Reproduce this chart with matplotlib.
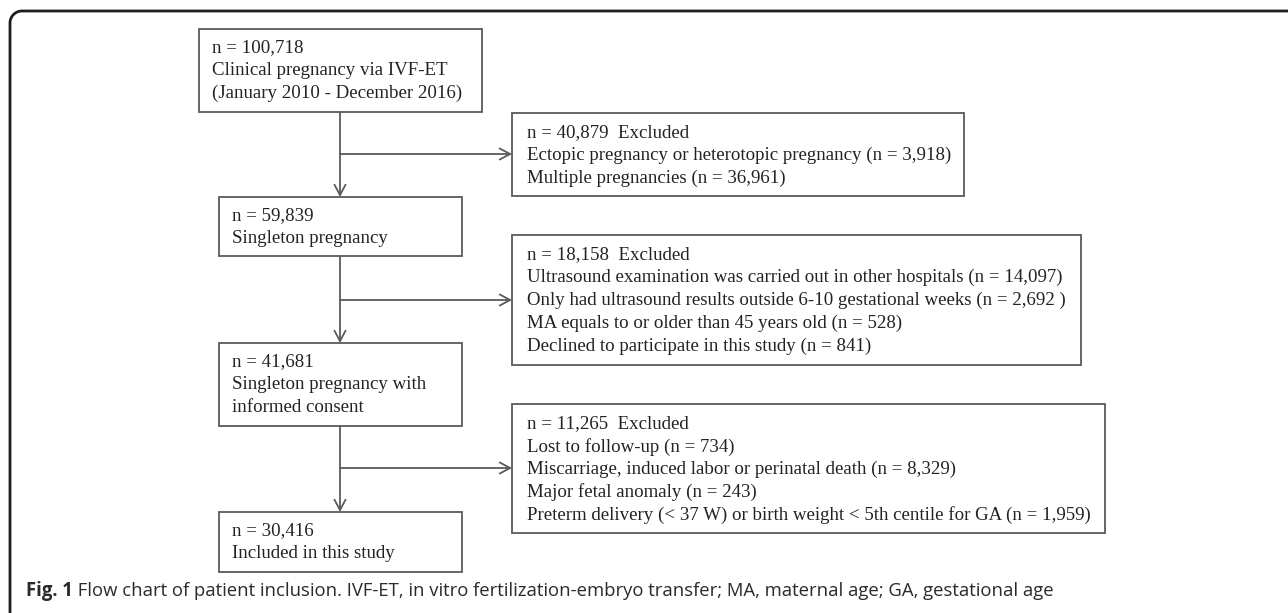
#Flow chart of patient inclusion
import numpy as np
import matplotlib.pyplot as plt
from matplotlib.patches import Rectangle

# Main path: counts and labels
main_counts = ["100,718", "59,839", "41,681", "30,416"]
main_labels = [
    ["Clinical pregnancy via IVF-ET", "(January 2010 - December 2016)"],
    ["Singleton pregnancy"],
    ["Singleton pregnancy with", "informed consent"],
    ["Included in this study"],
]

# Exclusion boxes
excluded_counts = ["40,879", "18,158", "11,265"]
excluded_reasons = [
    ["Ectopic pregnancy or heterotopic pregnancy (n = 3,918)",
     "Multiple pregnancies (n = 36,961)"],
    ["Ultrasound examination was carried out in other hospitals (n = 14,097)",
     "Only had ultrasound results outside 6-10 gestational weeks (n = 2,692 )",
     "MA equals to or older than 45 years old (n = 528)",
     "Declined to participate in this study (n = 841)"],
    ["Lost to follow-up (n = 734)",
     "Miscarriage, induced labor or perinatal death (n = 8,329)",
     "Major fetal anomaly (n = 243)",
     "Preterm delivery (< 37 W) or birth weight < 5th centile for GA (n = 1,959)"],
]

caption_bold = "Fig. 1"
caption_text = (" Flow chart of patient inclusion. IVF-ET, in vitro fertilization-embryo "
                "transfer; MA, maternal age; GA, gestational age")

# layout in pixels (x0, y0, x1, y1)
main_boxes = [(199, 29, 482, 112), (219, 197, 462, 256),
              (219, 343, 462, 426), (219, 512, 462, 572)]
excl_boxes = [(512, 113, 964, 196), (512, 235, 1081, 365), (512, 404, 1105, 533)]
branch_y = [154, 300, 468]
spine_x = 340

W, H = 1288, 613
fig = plt.figure(figsize=(W / 100, H / 100), dpi=100)
ax = fig.add_axes([0, 0, 1, 1])
ax.set_xlim(0, W)
ax.set_ylim(H, 0)
ax.axis('off')

edge = '#5a5a5a'
txt = '#222222'
serif = 'Liberation Serif'
fs = 13.6
lh = 22.8


def draw_box(b, lines, pad_x, first_y):
    x0, y0, x1, y1 = b
    ax.add_patch(Rectangle((x0, y0), x1 - x0, y1 - y0, fill=False,
                           edgecolor=edge, linewidth=1.3))
    for i, s in enumerate(lines):
        ax.text(x0 + pad_x, first_y + i * lh, s, family=serif, fontsize=fs,
                color=txt, va='center', ha='left')


for i, b in enumerate(main_boxes):
    lines = ["n = " + main_counts[i]] + main_labels[i]
    draw_box(b, lines, 13, b[1] + 19)

for i, b in enumerate(excl_boxes):
    lines = ["n = " + excluded_counts[i] + "  Excluded"] + excluded_reasons[i]
    draw_box(b, lines, 15.5, b[1] + 20)

arrow = dict(arrowstyle='->,head_length=0.75,head_width=0.4', color=edge,
             linewidth=1.3, shrinkA=0, shrinkB=0)

# vertical arrows between main boxes and branches to exclusion boxes
for i in range(3):
    ax.annotate('', xy=(spine_x, main_boxes[i + 1][1]), xytext=(spine_x, main_boxes[i][3]),
                arrowprops=arrow)
    ax.annotate('', xy=(excl_boxes[i][0], branch_y[i]), xytext=(spine_x, branch_y[i]),
                arrowprops=arrow)

# figure frame: top and left edges with rounded corner
r, fx, fy = 12, 10, 11
th = np.linspace(np.pi, 1.5 * np.pi, 20)
arc_x = fx + r + r * np.cos(th)
arc_y = fy + r + r * np.sin(th)
ax.plot(np.r_[fx, arc_x, W + 5], np.r_[H + 5, arc_y, fy], color='#1e1e1e',
        linewidth=2, solid_capstyle='butt')

# caption
cap_fam = ['Open Sans', 'DejaVu Sans']
cap_fs = 13.35
t = ax.text(26, 596, caption_bold, family=cap_fam, fontsize=cap_fs, fontweight='bold',
            color='#2a2a2a', va='baseline', ha='left')
fig.canvas.draw()
bb = t.get_window_extent()
ax.text(26 + bb.width, 596, caption_text, family=cap_fam, fontsize=cap_fs,
        color='#2a2a2a', va='baseline', ha='left')

fig.savefig('out.png', dpi=100)
